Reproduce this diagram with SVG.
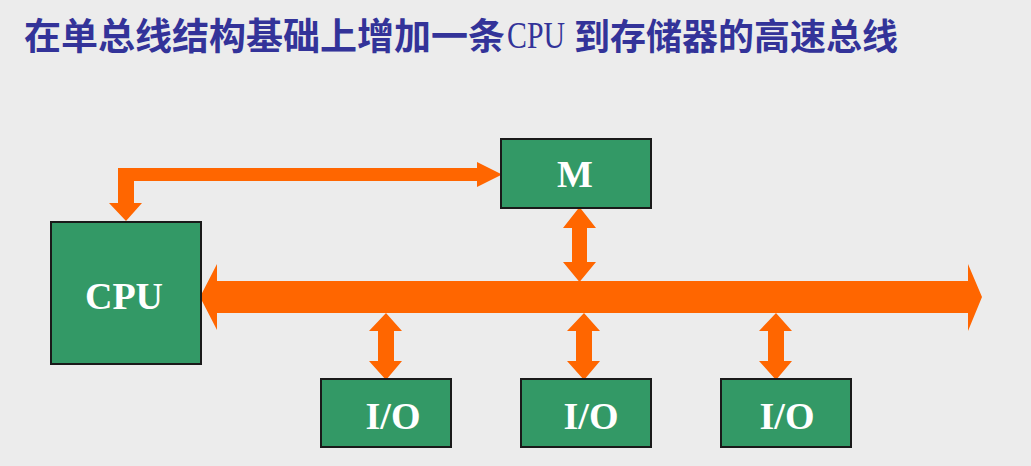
<svg xmlns="http://www.w3.org/2000/svg" width="1031" height="466" viewBox="0 0 1031 466">
<style>
.box{fill:#339966;stroke:#1a1a1a;stroke-width:2}
.lbl{font-family:"Liberation Serif","Times New Roman",serif;font-weight:bold;font-size:38px;fill:#ffffff;text-anchor:middle}
.arr{fill:#ff6600}
.title{font-family:"Noto Sans CJK SC","Noto Sans CJK JP",sans-serif;font-weight:bold;fill:#333399}
</style>
<rect x="0" y="0" width="1031" height="466" fill="#ececec"/>
<text class="title" y="50"><tspan x="24" font-size="37">在单总线结构基础上增加一条</tspan><tspan x="507" y="48" font-family="Liberation Serif, serif" font-weight="normal" font-size="37" textLength="58" lengthAdjust="spacingAndGlyphs">CPU</tspan><tspan x="574" y="50" font-size="36">到存储器的高速总线</tspan></text>
<g id="connectors">
<path class="arr" d="M200,297 L217,264 L217,281 L968,281 L968,264 L982,297 L968,331 L968,313 L217,313 L217,330 Z"/>
<path class="arr" d="M118,168 L477,168 L477,162 L502,174.5 L477,187 L477,181 L134,181 L134,203 L142,203 L126,221 L109,203 L118,203 Z"/>
<path class="arr" d="M579.5,207 L596,228 L587,228 L587,262 L596,262 L579.5,282 L563,262 L572,262 L572,228 L563,228 Z"/>
<path class="arr" d="M386,313 L402,331 L394,331 L394,361 L402,361 L386,380 L369,361 L378,361 L378,331 L369,331 Z"/>
<path class="arr" d="M584,313 L600,331 L592,331 L592,361 L600,361 L584,380 L567,361 L576,361 L576,331 L567,331 Z"/>
<path class="arr" d="M776,313 L792,331 L784,331 L784,361 L792,361 L776,380 L759,361 L768,361 L768,331 L759,331 Z"/>
</g>
<g id="cpu"><rect class="box" x="51" y="222" width="150" height="142"/><text class="lbl" x="124" y="309">CPU</text></g>
<g id="m"><rect class="box" x="501" y="139" width="150" height="69"/><text class="lbl" x="575" y="187">M</text></g>
<g id="io1"><rect class="box" x="321" y="379" width="130" height="68"/><text class="lbl" x="393" y="429">I/O</text></g>
<g id="io2"><rect class="box" x="521" y="379" width="130" height="68"/><text class="lbl" x="591" y="429">I/O</text></g>
<g id="io3"><rect class="box" x="721" y="379" width="130" height="68"/><text class="lbl" x="787" y="429">I/O</text></g>
</svg>
